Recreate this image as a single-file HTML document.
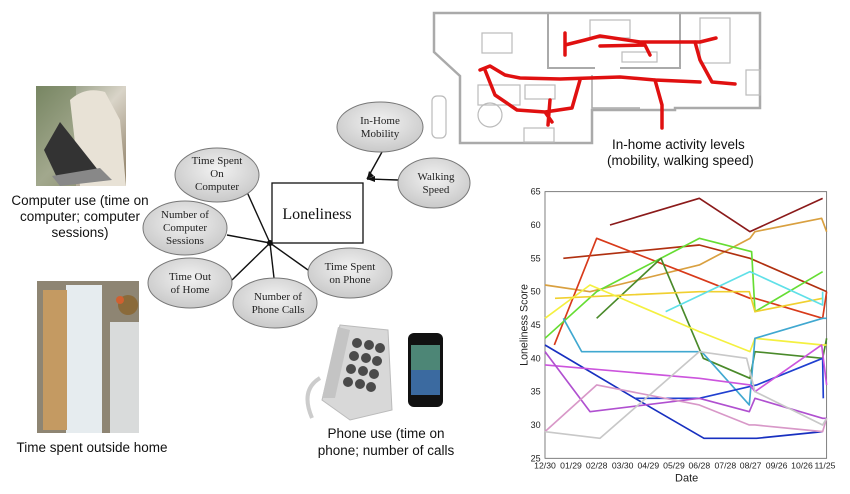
<!DOCTYPE html>
<html><head><meta charset="utf-8"><style>
html,body{margin:0;padding:0;background:#fff;width:850px;height:494px;overflow:hidden}
svg{display:block}
.c{font-family:"Liberation Sans",sans-serif;font-size:13.5px;fill:#111}
.s{font-family:"Liberation Serif",serif;font-size:11px;fill:#222}
</style></head><body>
<svg width="850" height="494" viewBox="0 0 850 494" xmlns="http://www.w3.org/2000/svg">
<defs>
<radialGradient id="eg" cx="50%" cy="40%" r="60%"><stop offset="0" stop-color="#f2f2f2"/><stop offset="1" stop-color="#c9c9c9"/></radialGradient>
<linearGradient id="p1" x1="0" y1="0" x2="1" y2="1"><stop offset="0" stop-color="#6f7f5e"/><stop offset="0.5" stop-color="#d9d4c8"/><stop offset="1" stop-color="#8a7a60"/></linearGradient>
</defs>

<!-- Floor plan -->
<g fill="none" stroke="#aaa" stroke-width="2.5">
<path d="M434 13 L760 13 L760 108 L675 108 L675 110 L592 110 L592 143 L460 143 L460 76 L434 52 Z"/>
<path d="M548 13 L548 68 L595 68 M620 68 L680 68 L680 13" stroke-width="2"/>
<path d="M592 75 L592 108 L640 108" stroke-width="1.5"/>
</g>
<g fill="none" stroke="#bbb" stroke-width="1.2">
<rect x="482" y="33" width="30" height="20"/><rect x="478" y="85" width="42" height="20"/><rect x="525" y="85" width="30" height="14"/>
<circle cx="490" cy="115" r="12"/><rect x="524" y="128" width="30" height="14"/>
<rect x="590" y="20" width="40" height="18"/><rect x="700" y="18" width="30" height="45"/><rect x="746" y="70" width="14" height="25"/>
<rect x="622" y="52" width="35" height="10"/><rect x="432" y="96" width="14" height="42" rx="5"/>
</g>
<g fill="none" stroke="#e01010" stroke-width="3.5" stroke-linecap="round" stroke-linejoin="round">
<path d="M565 33 L565 55 M565 45 L585 40 L600 36 L640 42 L700 42 L716 38"/>
<path d="M695 42 L700 60 L712 82 L735 84"/>
<path d="M480 70 L490 66 L505 75 L520 78 L560 79 L620 77 L655 80 L700 82"/>
<path d="M485 70 L495 95 L517 110 L545 112 L552 122 M550 100 L548 125 M545 112 L572 108 L580 80"/>
<path d="M655 80 L662 105 L662 128"/>
<path d="M600 46 L645 45 L650 55"/>
</g>
<text class="c" x="612" y="149">In-home activity levels</text>
<text class="c" x="607" y="165">(mobility, walking speed)</text>

<!-- Photo 1: computer -->
<rect x="36" y="86" width="90" height="100" fill="url(#p1)"/>
<rect x="36" y="86" width="40" height="100" fill="#7d8a66" opacity="0.6"/>
<path d="M70 100 Q85 86 105 92 L120 120 L126 186 L80 186 Z" fill="#e8e2d6"/>
<path d="M44 150 L60 122 L98 170 L60 184 Z" fill="#333"/>
<path d="M52 176 L100 168 L112 180 L60 186 Z" fill="#888"/>
<text class="c" x="80" y="205" text-anchor="middle">Computer use (time on</text>
<text class="c" x="80" y="221" text-anchor="middle">computer; computer</text>
<text class="c" x="80" y="237" text-anchor="middle">sessions)</text>

<!-- Photo 2: door -->
<rect x="37" y="281" width="102" height="152" fill="#8e8573"/>
<rect x="66" y="285" width="36" height="148" fill="#e6ecef"/>
<rect x="43" y="290" width="24" height="140" fill="#c49a62"/>
<rect x="110" y="322" width="29" height="111" fill="#d9dbdb"/>
<circle cx="128" cy="305" r="10" fill="#8a6a3a"/><circle cx="120" cy="300" r="4" fill="#d06030"/>
<text class="c" x="92" y="452" text-anchor="middle">Time spent outside home</text>

<!-- Concept diagram -->
<g stroke="#111" stroke-width="1.4" fill="none">
<line x1="270" y1="243" x2="247" y2="192"/>
<line x1="270" y1="243" x2="227" y2="235"/>
<line x1="270" y1="243" x2="232" y2="280"/>
<line x1="270" y1="243" x2="274" y2="278"/>
<line x1="270" y1="243" x2="308" y2="270"/>
<line x1="367" y1="179" x2="382" y2="152"/>
<line x1="367" y1="179" x2="398" y2="180"/>
</g>
<circle cx="270" cy="243" r="3" fill="#111"/>
<path d="M367 179 l2 -8 l5 5 Z M367 179 l8 -3 l0 6 Z" fill="#111"/>
<rect x="272" y="183" width="91" height="60" fill="#fff" stroke="#111" stroke-width="1.3"/>
<text x="317" y="219" text-anchor="middle" font-family="Liberation Serif,serif" font-size="16" fill="#111">Loneliness</text>
<g fill="url(#eg)" stroke="#777" stroke-width="1">
<ellipse cx="380" cy="127" rx="43" ry="25"/>
<ellipse cx="434" cy="183" rx="36" ry="25"/>
<ellipse cx="217" cy="175" rx="42" ry="27"/>
<ellipse cx="185" cy="228" rx="42" ry="27"/>
<ellipse cx="190" cy="283" rx="42" ry="25"/>
<ellipse cx="275" cy="303" rx="42" ry="25"/>
<ellipse cx="350" cy="273" rx="42" ry="25"/>
</g>
<g class="s" text-anchor="middle">
<text x="380" y="124">In-Home</text><text x="380" y="137">Mobility</text>
<text x="436" y="180">Walking</text><text x="436" y="193">Speed</text>
<text x="217" y="164">Time Spent</text><text x="217" y="177">On</text><text x="217" y="190">Computer</text>
<text x="185" y="218">Number of</text><text x="185" y="231">Computer</text><text x="185" y="244">Sessions</text>
<text x="190" y="280">Time Out</text><text x="190" y="293">of Home</text>
<text x="278" y="300">Number of</text><text x="278" y="313">Phone Calls</text>
<text x="350" y="270">Time Spent</text><text x="350" y="283">on Phone</text>
</g>

<!-- Desk phone -->
<path d="M340 325 L388 330 L392 410 L350 420 L322 400 Z" fill="#d8d8d8" stroke="#bbb"/>
<path d="M338 327 L350 330 L335 398 L322 398 Z" fill="#c4c4c4"/>
<path d="M320 378 Q300 390 312 418" fill="none" stroke="#ccc" stroke-width="4"/>
<g fill="#4a4a4a">
<circle cx="357" cy="343" r="5"/><circle cx="369" cy="345" r="5"/><circle cx="380" cy="348" r="5"/>
<circle cx="354" cy="356" r="5"/><circle cx="366" cy="358" r="5"/><circle cx="377" cy="361" r="5"/>
<circle cx="351" cy="369" r="5"/><circle cx="363" cy="371" r="5"/><circle cx="374" cy="374" r="5"/>
<circle cx="348" cy="382" r="5"/><circle cx="360" cy="384" r="5"/><circle cx="371" cy="387" r="5"/>
</g>
<!-- Smartphone -->
<rect x="408" y="333" width="35" height="74" rx="6" fill="#111"/>
<rect x="411" y="345" width="29" height="50" fill="#3b6aa0"/>
<rect x="411" y="345" width="29" height="25" fill="#5a9a5a" opacity="0.6"/>
<text class="c" x="386" y="438" text-anchor="middle">Phone use (time on</text>
<text class="c" x="386" y="455" text-anchor="middle">phone; number of calls</text>

<!-- Chart -->
<g transform="translate(500,180) scale(0.3333)">
<rect x="135" y="35" width="845" height="800" fill="#fff" stroke="#666" stroke-width="2.5"/>
<g font-family="Liberation Sans,sans-serif" font-size="27" fill="#222" text-anchor="end">
<text x="122" y="44">65</text><text x="122" y="144">60</text><text x="122" y="244">55</text><text x="122" y="344">50</text>
<text x="122" y="444">45</text><text x="122" y="544">40</text><text x="122" y="644">35</text><text x="122" y="744">30</text><text x="122" y="844">25</text>
</g>
<g font-family="Liberation Sans,sans-serif" font-size="26" fill="#222" text-anchor="middle">
<text x="135" y="866">12/30</text><text x="213" y="866">01/29</text><text x="290" y="866">02/28</text><text x="368" y="866">03/30</text>
<text x="445" y="866">04/29</text><text x="522" y="866">05/29</text><text x="598" y="866">06/28</text><text x="676" y="866">07/28</text>
<text x="752" y="866">08/27</text><text x="830" y="866">09/26</text><text x="906" y="866">10/26</text><text x="975" y="866">11/25</text>
<text x="560" y="905" font-size="33">Date</text>
</g>
<text transform="translate(82,435) rotate(-90)" font-family="Liberation Sans,sans-serif" font-size="32" fill="#222" text-anchor="middle">Loneliness Score</text>
<g fill="none" stroke-width="5" stroke-linejoin="round">
<polyline stroke="#8b1a1a" points="330,135 598,55 750,155 968,55"/>
<polyline stroke="#d9a040" points="135,315 270,335 598,255 750,175 765,155 965,115 980,155"/>
<polyline stroke="#b03010" points="190,235 598,195 750,235 980,335"/>
<polyline stroke="#d83a1a" points="163,495 290,175 598,295 750,355 765,355 968,415 980,335"/>
<polyline stroke="#66dd33" points="135,475 290,335 598,175 755,215 765,395 968,275"/>
<polyline stroke="#4a8a2a" points="290,415 483,235 610,535 750,595 765,515 968,535 980,475"/>
<polyline stroke="#f0d030" points="165,355 598,335 748,335 765,395 968,355"/>
<polyline stroke="#f4f040" points="135,415 270,315 598,455 750,515 765,475 968,495 980,495"/>
<polyline stroke="#60e0e8" points="497,395 750,275 968,375 968,335"/>
<polyline stroke="#40a8d0" points="190,415 245,515 605,515 748,675 765,475 968,415 980,415"/>
<polyline stroke="#1830c0" points="135,495 405,655 612,775 770,775 968,755"/>
<polyline stroke="#2040d0" points="405,655 598,655 770,615 968,535 970,655"/>
<polyline stroke="#cc55dd" points="135,555 598,595 750,615 765,635 965,495 980,615"/>
<polyline stroke="#b050d0" points="135,515 270,695 598,655 748,695 765,655 968,715 980,715"/>
<polyline stroke="#d898c8" points="135,755 290,615 598,675 748,735 765,735 968,755 980,715"/>
<polyline stroke="#c8c8c8" points="135,755 300,775 598,515 740,535 765,635 968,735 980,715"/>
</g>
</g>
</svg>
</body></html>
